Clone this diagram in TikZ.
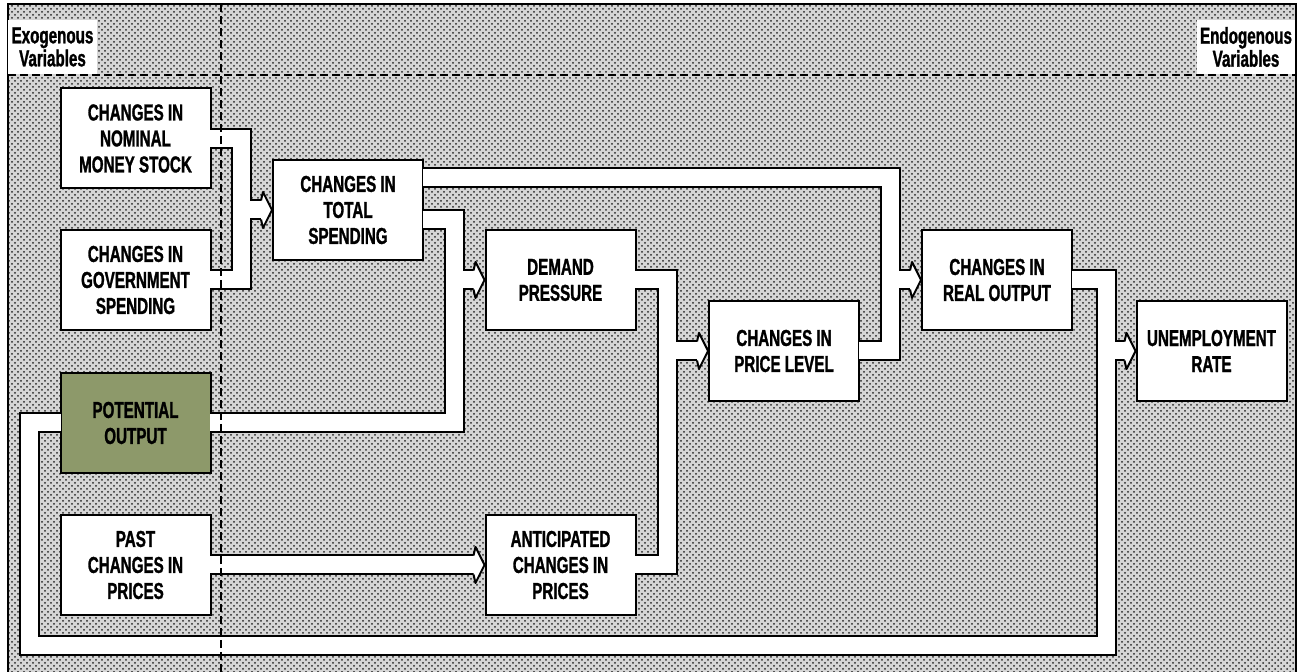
\documentclass[tikz,border=0pt]{standalone}
\usepackage{fontspec}
\usetikzlibrary{calc,patterns}
\newfontfamily\boxfont{Liberation Sans}[FakeStretch=0.66,BoldFeatures={FakeBold=1.2}]
\definecolor{potgreen}{RGB}{141,153,106}
\tikzset{
  box/.style={draw, line width=1pt, fill=white, minimum width=75pt, minimum height=50pt,
    inner sep=0pt, align=center, font=\boxfont\bfseries\fontsize{11.5}{13}\selectfont},
  varlabel/.style={fill=white, minimum width=44.5pt, minimum height=27pt, inner sep=0pt,
    align=center, font=\boxfont\bfseries\fontsize{11.5}{11.5}\selectfont},
  pipe/.style={line width=10.5pt, black},
  pipecore/.style={line width=8.5pt, white},
  tipline/.style={line width=1pt, line join=round},
  divider/.style={dash pattern=on 4pt off 2pt, line width=0.9pt}
}
\newcommand{\pipetip}[1]{%
  \fill[white] ($(#1)+(-11,-9.5)$) -- ($(#1)+(-9,-18)$) -- (#1) -- ($(#1)+(-9,18)$) -- ($(#1)+(-11,9.5)$) -- cycle;
  \draw[tipline] ($(#1)+(-11,-9.5)$) -- ($(#1)+(-9,-18)$) -- (#1) -- ($(#1)+(-9,18)$) -- ($(#1)+(-11,9.5)$);
}
\begin{document}
\begin{tikzpicture}[x=0.5pt,y=0.5pt,yscale=-1,xscale=1]
\useasboundingbox (0,0) rectangle (1302,672);
\fill[black!16] (8,4) rectangle (1296,672);
\fill[pattern=crosshatch dots, pattern color=black!85] (8,4) rectangle (1296,672);
\draw[line width=1pt] (8,672) -- (8,4) -- (1296,4) -- (1296,672);
%Boxes
\node[box] (money) at (135.5,138.5) {CHANGES IN\\NOMINAL\\MONEY STOCK};
\node[box] (gov) at (135.5,280) {CHANGES IN\\GOVERNMENT\\SPENDING};
\node[box, fill=potgreen] (pot) at (135.5,423) {POTENTIAL\\OUTPUT};
\node[box] (past) at (135.5,565) {PAST\\CHANGES IN\\PRICES};
\node[box] (total) at (348,210) {CHANGES IN\\TOTAL\\SPENDING};
\node[box] (demand) at (560.5,280) {DEMAND\\PRESSURE};
\node[box] (ant) at (560.5,565) {ANTICIPATED\\CHANGES IN\\PRICES};
\node[box] (price) at (784,351) {CHANGES IN\\PRICE LEVEL};
\node[box] (real) at (997,280) {CHANGES IN\\REAL OUTPUT};
\node[box] (unemp) at (1211.5,351) {UNEMPLOYMENT\\RATE};
%Pipes
\foreach \layer/\gap in {pipe/0,pipecore/1.2}{
  \draw[\layer] ($(money.east)+(-\gap,0)$) -| (241,210) -- ($(total.west)+(-11,0)$);
  \draw[\layer] ($(gov.east)+(-\gap,0)$) -| (241,210) -- ($(total.west)+(-11,0)$);
  \draw[\layer] ($(total.east)+(-\gap,-32)$) -| (890,280) -- ($(real.west)+(-11,0)$);
  \draw[\layer] ($(price.east)+(-\gap,0)$) -| (890,280) -- ($(real.west)+(-11,0)$);
  \draw[\layer] ($(total.east)+(-\gap,10)$) -| (454,280) -- ($(demand.west)+(-11,0)$);
  \draw[\layer] ($(pot.east)+(-\gap,0)$) -| (454,280) -- ($(demand.west)+(-11,0)$);
  \draw[\layer] ($(demand.east)+(-\gap,0)$) -| (667,351) -- ($(price.west)+(-11,0)$);
  \draw[\layer] ($(ant.east)+(-\gap,0)$) -| (667,351) -- ($(price.west)+(-11,0)$);
  \draw[\layer] ($(past.east)+(-\gap,0)$) -- ($(ant.west)+(-11,0)$);
  \draw[\layer] ($(real.east)+(-\gap,0)$) -| (1106,351) -- ($(unemp.west)+(-11,0)$);
  \draw[\layer] ($(pot.west)+(\gap,0)$) -| (29,646) -| (1106,351) -- ($(unemp.west)+(-11,0)$);
}
\pipetip{total.west}
\pipetip{demand.west}
\pipetip{price.west}
\pipetip{real.west}
\pipetip{unemp.west}
\pipetip{ant.west}
%Dividers
\draw[divider] (8,75) -- (1296,75);
\draw[divider] (221,4) -- (221,672);
%Text
\node[varlabel] (exo) at (52.5,47) {Exogenous\\Variables};
\node[varlabel, minimum width=49pt] (endo) at (1246,47) {Endogenous\\Variables};
\end{tikzpicture}
\end{document}
